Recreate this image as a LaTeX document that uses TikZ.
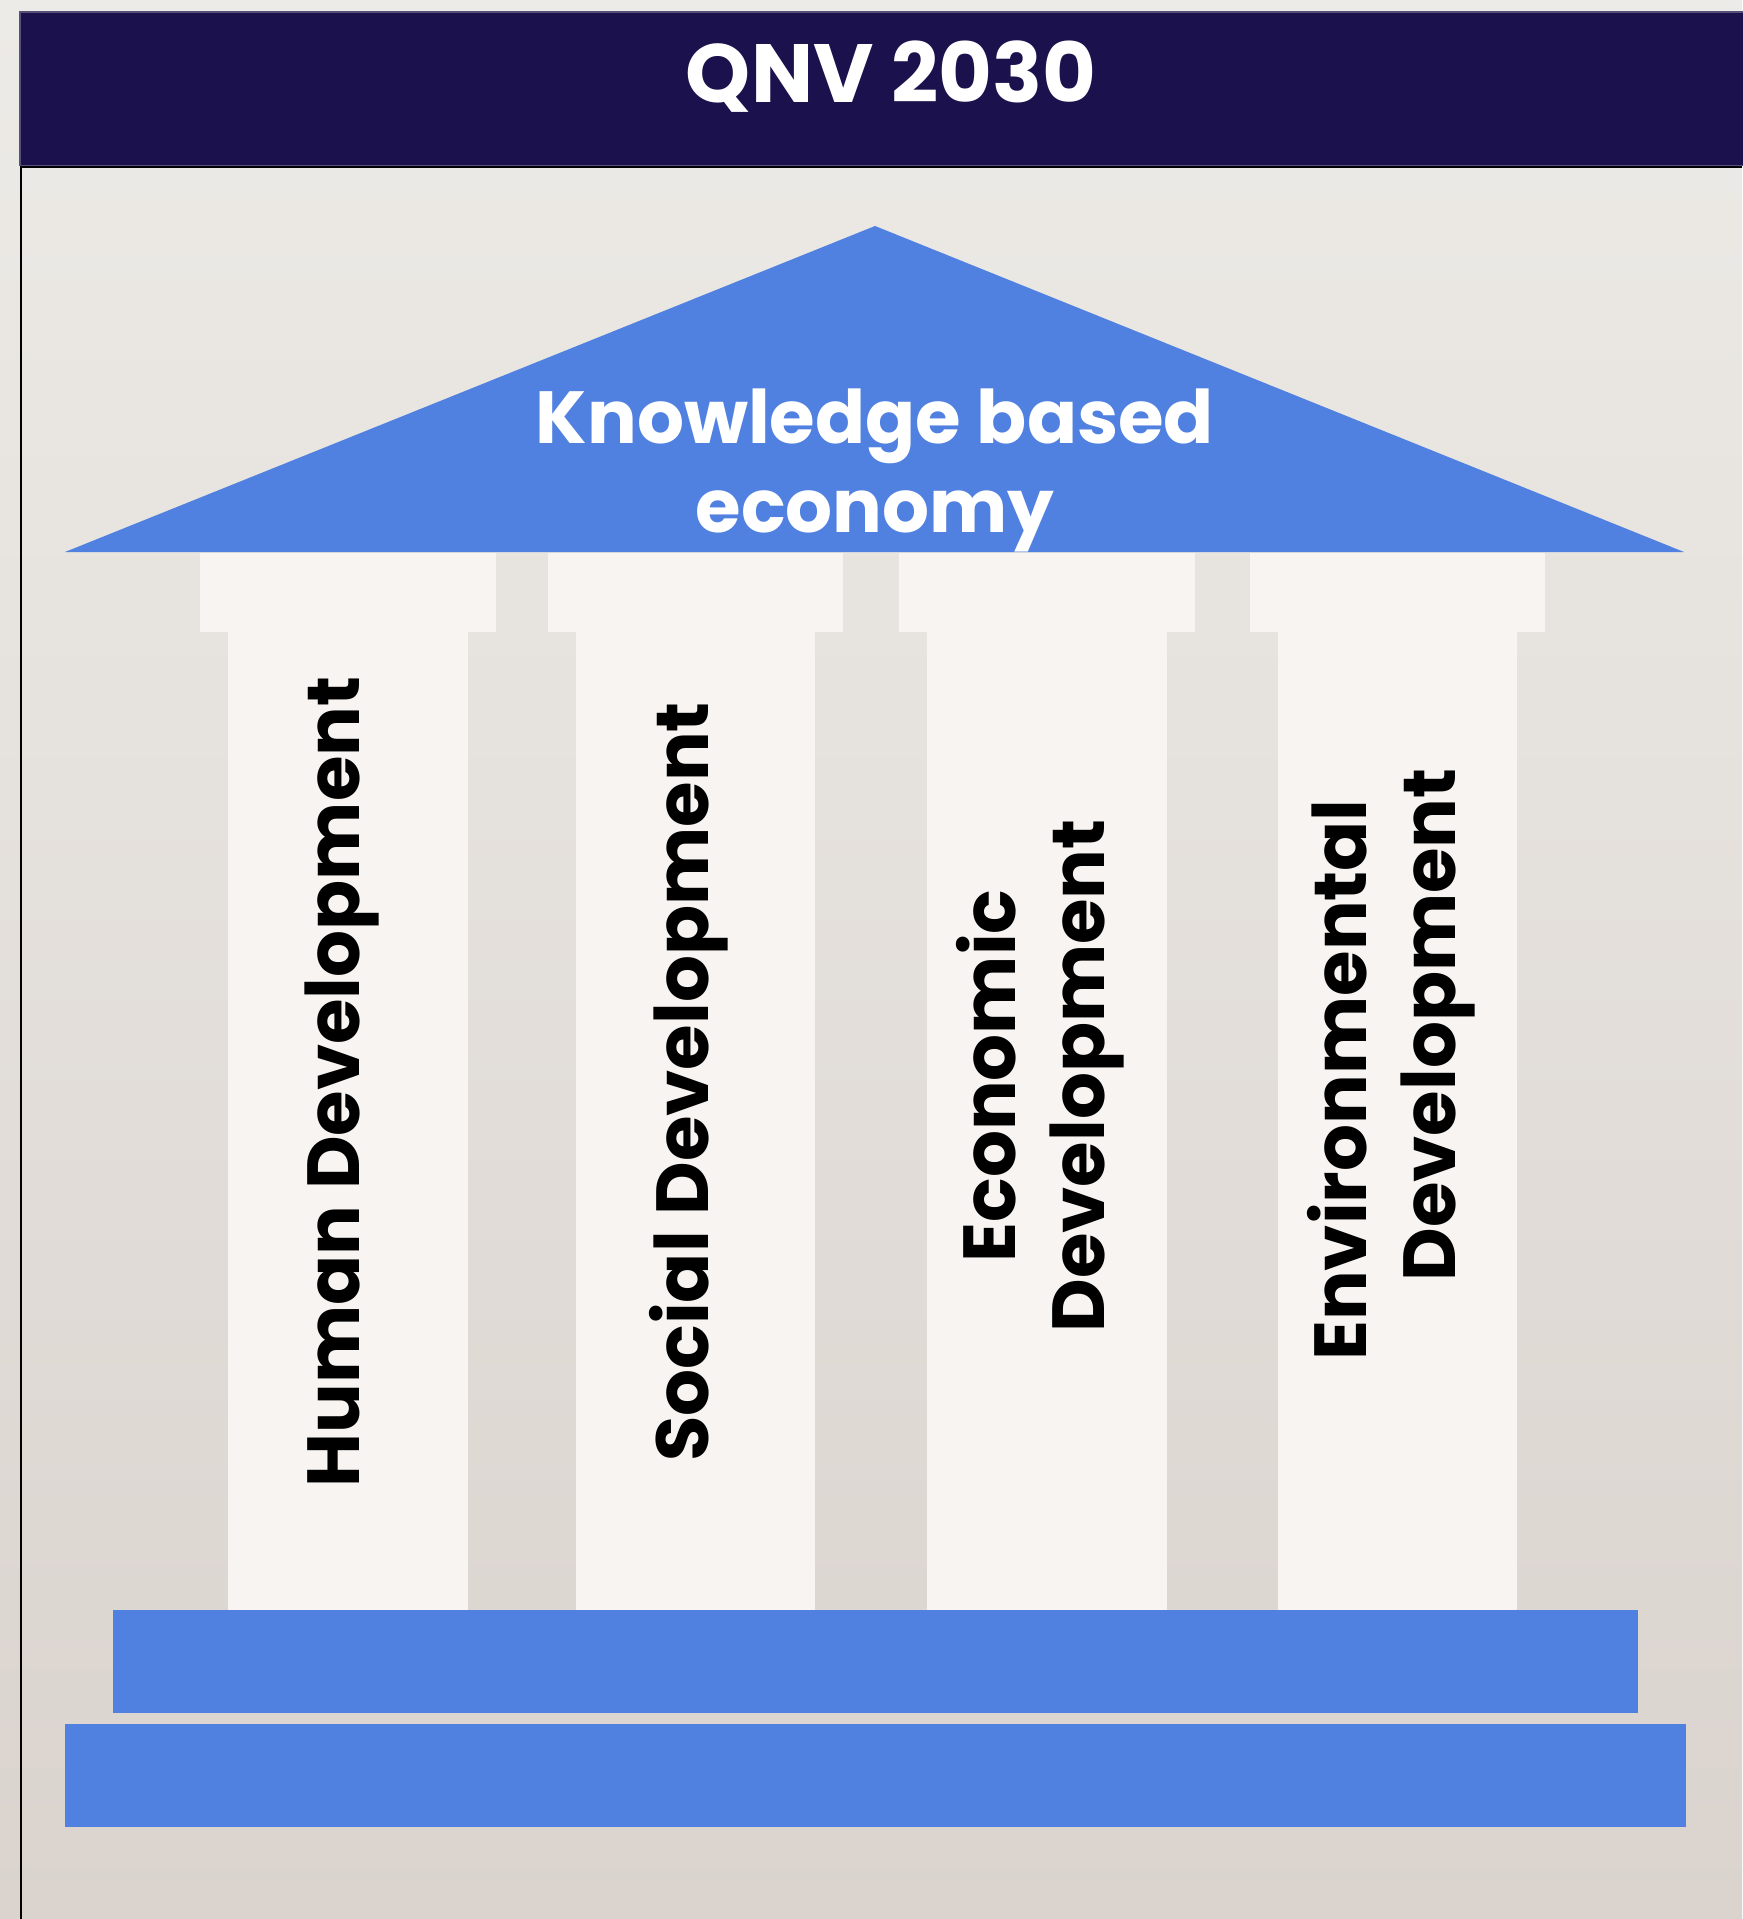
\documentclass[tikz,border=0pt]{standalone}
\usepackage{fontspec}
\setmainfont{Poppins}
\usetikzlibrary{positioning,calc}
\definecolor{qnvnavy}{HTML}{1A114D}
\definecolor{qnvedge}{HTML}{57517A}
\definecolor{qnvblue}{HTML}{5181E0}
\definecolor{pillarwhite}{HTML}{F8F4F1}
\definecolor{bgtop}{HTML}{EDEBE7}
\definecolor{bgbottom}{HTML}{DAD3CE}

\begin{document}
\begin{tikzpicture}[x=0.01cm, y=-0.01cm, font=\bfseries\fontsize{21}{25.3}\selectfont,
  block/.style={inner sep=0pt, outer sep=0pt},
  capital/.style={block, fill=pillarwhite, minimum width=2.95cm, minimum height=0.79cm},
  shaft/.style={block, fill=pillarwhite, minimum width=2.39cm, minimum height=9.79cm},
  stepbox/.style={block, fill=qnvblue, minimum height=1.03cm, anchor=north west},
  pillartext/.style={rotate=90, align=center, inner sep=0pt}]
  \useasboundingbox (0,0) rectangle (1742,1919);
  \fill[top color=bgtop, bottom color=bgbottom] (0,0) rectangle (1742,1919);

  % header band
  \node[block, fill=qnvnavy, draw=qnvedge, line width=0.3pt, anchor=north west,
        minimum width=17.3cm, minimum height=1.53cm] (banner) at (20,12) {};
  \node[text=white, anchor=base, font=\bfseries\fontsize{23.5}{28}\selectfont] (title) at (891,103) {QNV 2030};
  \draw[line width=0.02cm] (1742,167) -- (21,167) -- (21,1919);

  % roof
  \fill[qnvblue] (65,552) -- (875,226) -- (1684,552) -- cycle;
  \node[text=white, align=center, anchor=base] (roof) at (875,532) {Knowledge based\\economy};

  % pillars
  \node[capital, anchor=north] (cap1) at (348,553) {};
  \node[capital, anchor=north] (cap2) at (695.5,553) {};
  \node[capital, anchor=north] (cap3) at (1047,553) {};
  \node[capital, anchor=north] (cap4) at (1397.5,553) {};
  \node[shaft, below=0pt of cap1] (shaft1) {};
  \node[shaft, below=0pt of cap2] (shaft2) {};
  \node[shaft, below=0pt of cap3] (shaft3) {};
  \node[shaft, below=0pt of cap4] (shaft4) {};

  % steps
  \node[stepbox, minimum width=15.24cm] (plinth) at (113,1610) {};
  \node[stepbox, minimum width=16.2cm] (stylobate) at (65,1724) {};

  % pillar labels
  \node[pillartext] (human) at (342,1082) {Human Development};
  \node[pillartext] (social) at (689,1082) {Social Development};
  \node[pillartext] (economic) at (1040,1076) {Economic\\Development};
  \node[pillartext] (environ) at (1391,1080) {Environmental\\\hspace*{1.1cm}Development};
\end{tikzpicture}
\end{document}
